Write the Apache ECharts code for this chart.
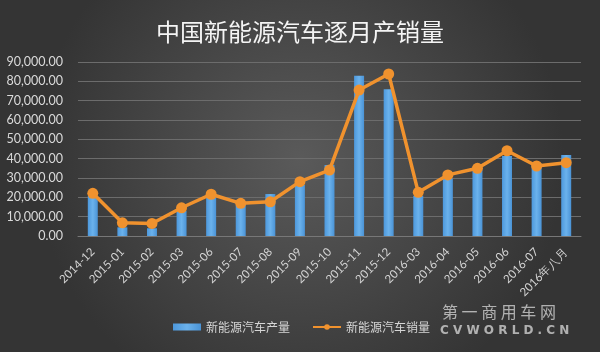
<!DOCTYPE html>
<html><head><meta charset="utf-8">
<script src="https://cdn.jsdelivr.net/npm/echarts@6/dist/echarts.min.js"></script>
<style>html,body{margin:0;padding:0;background:#3c3c3c}#c{width:600px;height:352px}</style>
</head><body><div id="c"></div>
<script>
var categories = ['2014-12','2015-01','2015-02','2015-03','2015-06','2015-07','2015-08','2015-09','2015-10','2015-11','2015-12','2016-03','2016-04','2016-05','2016-06','2016-07','2016年八月'];
var production = [20800, 4500, 4000, 13000, 20000, 16000, 21700, 26400, 36700, 82900, 75900, 20800, 29800, 34100, 41400, 37600, 41900];
var sales = [22100, 6800, 6500, 14600, 21600, 16900, 17700, 28100, 34100, 75500, 83800, 22600, 31600, 35000, 44100, 36200, 37900];
var seriesNames = ['新能源汽车产量', '新能源汽车销量'];
var titleText = '中国新能源汽车逐月产销量';

var chart = echarts.init(document.getElementById('c'));
chart.setOption({
  backgroundColor: {
    type: 'radial', x: 0.5, y: 0.45, r: 0.75,
    colorStops: [{offset: 0, color: '#5a5a5a'}, {offset: 1, color: '#343434'}]
  },
  animation: false,
  title: {
    text: titleText, left: 'center', top: 15,
    textStyle: {color: '#f4f4f4', fontSize: 24, fontWeight: 'normal', fontFamily: 'Noto Sans CJK SC'}
  },
  grid: {left: 78, right: 19, top: 62, bottom: 116},
  legend: {
    left: 168, top: 316, itemGap: 22, itemWidth: 28, itemHeight: 7,
    textStyle: {color: '#d6d6d6', fontSize: 12, fontFamily: 'Noto Sans CJK SC'},
    data: [{name: seriesNames[0], icon: 'rect'}, {name: seriesNames[1]}]
  },
  xAxis: {
    type: 'category', data: categories,
    axisLine: {show: true, lineStyle: {color: '#777'}},
    axisTick: {show: false},
    axisLabel: {rotate: 45, color: '#d4d4d4', fontSize: 11.5, fontFamily: 'Lato', margin: 14, interval: 0}
  },
  yAxis: {
    type: 'value', min: 0, max: 90000, interval: 10000,
    axisLine: {show: false}, axisTick: {show: false},
    splitLine: {lineStyle: {color: '#6c6c6c', width: 1}},
    axisLabel: {
      color: '#dadada', fontSize: 12.5, fontFamily: 'Lato', margin: 15,
      formatter: function (v) { return v.toLocaleString('en-US', {minimumFractionDigits: 2, maximumFractionDigits: 2}); }
    }
  },
  graphic: [
    {type: 'text', left: 442, top: 304, style: {text: '第 一 商 用 车 网', fill: 'rgba(230,230,230,0.7)', font: '16px "Noto Sans CJK SC"'}},
    {type: 'text', left: 440, top: 325, style: {text: 'C V W O R L D . C N', fill: 'rgba(230,230,230,0.7)', font: 'bold 12px "DejaVu Sans"'}}
  ],
  series: [
    {
      name: seriesNames[0], type: 'bar', data: production, barWidth: 10,
      itemStyle: {color: {type: 'linear', x: 0, y: 0, x2: 1, y2: 0,
        colorStops: [{offset: 0, color: '#4d98dc'}, {offset: 0.5, color: '#6bb2ec'}, {offset: 1, color: '#4a93d6'}]}}
    },
    {
      name: seriesNames[1], type: 'line', data: sales,
      symbol: 'circle', symbolSize: 11,
      lineStyle: {color: '#f0922e', width: 3.5},
      itemStyle: {color: '#f0922e'}
    }
  ]
});
</script></body></html>
